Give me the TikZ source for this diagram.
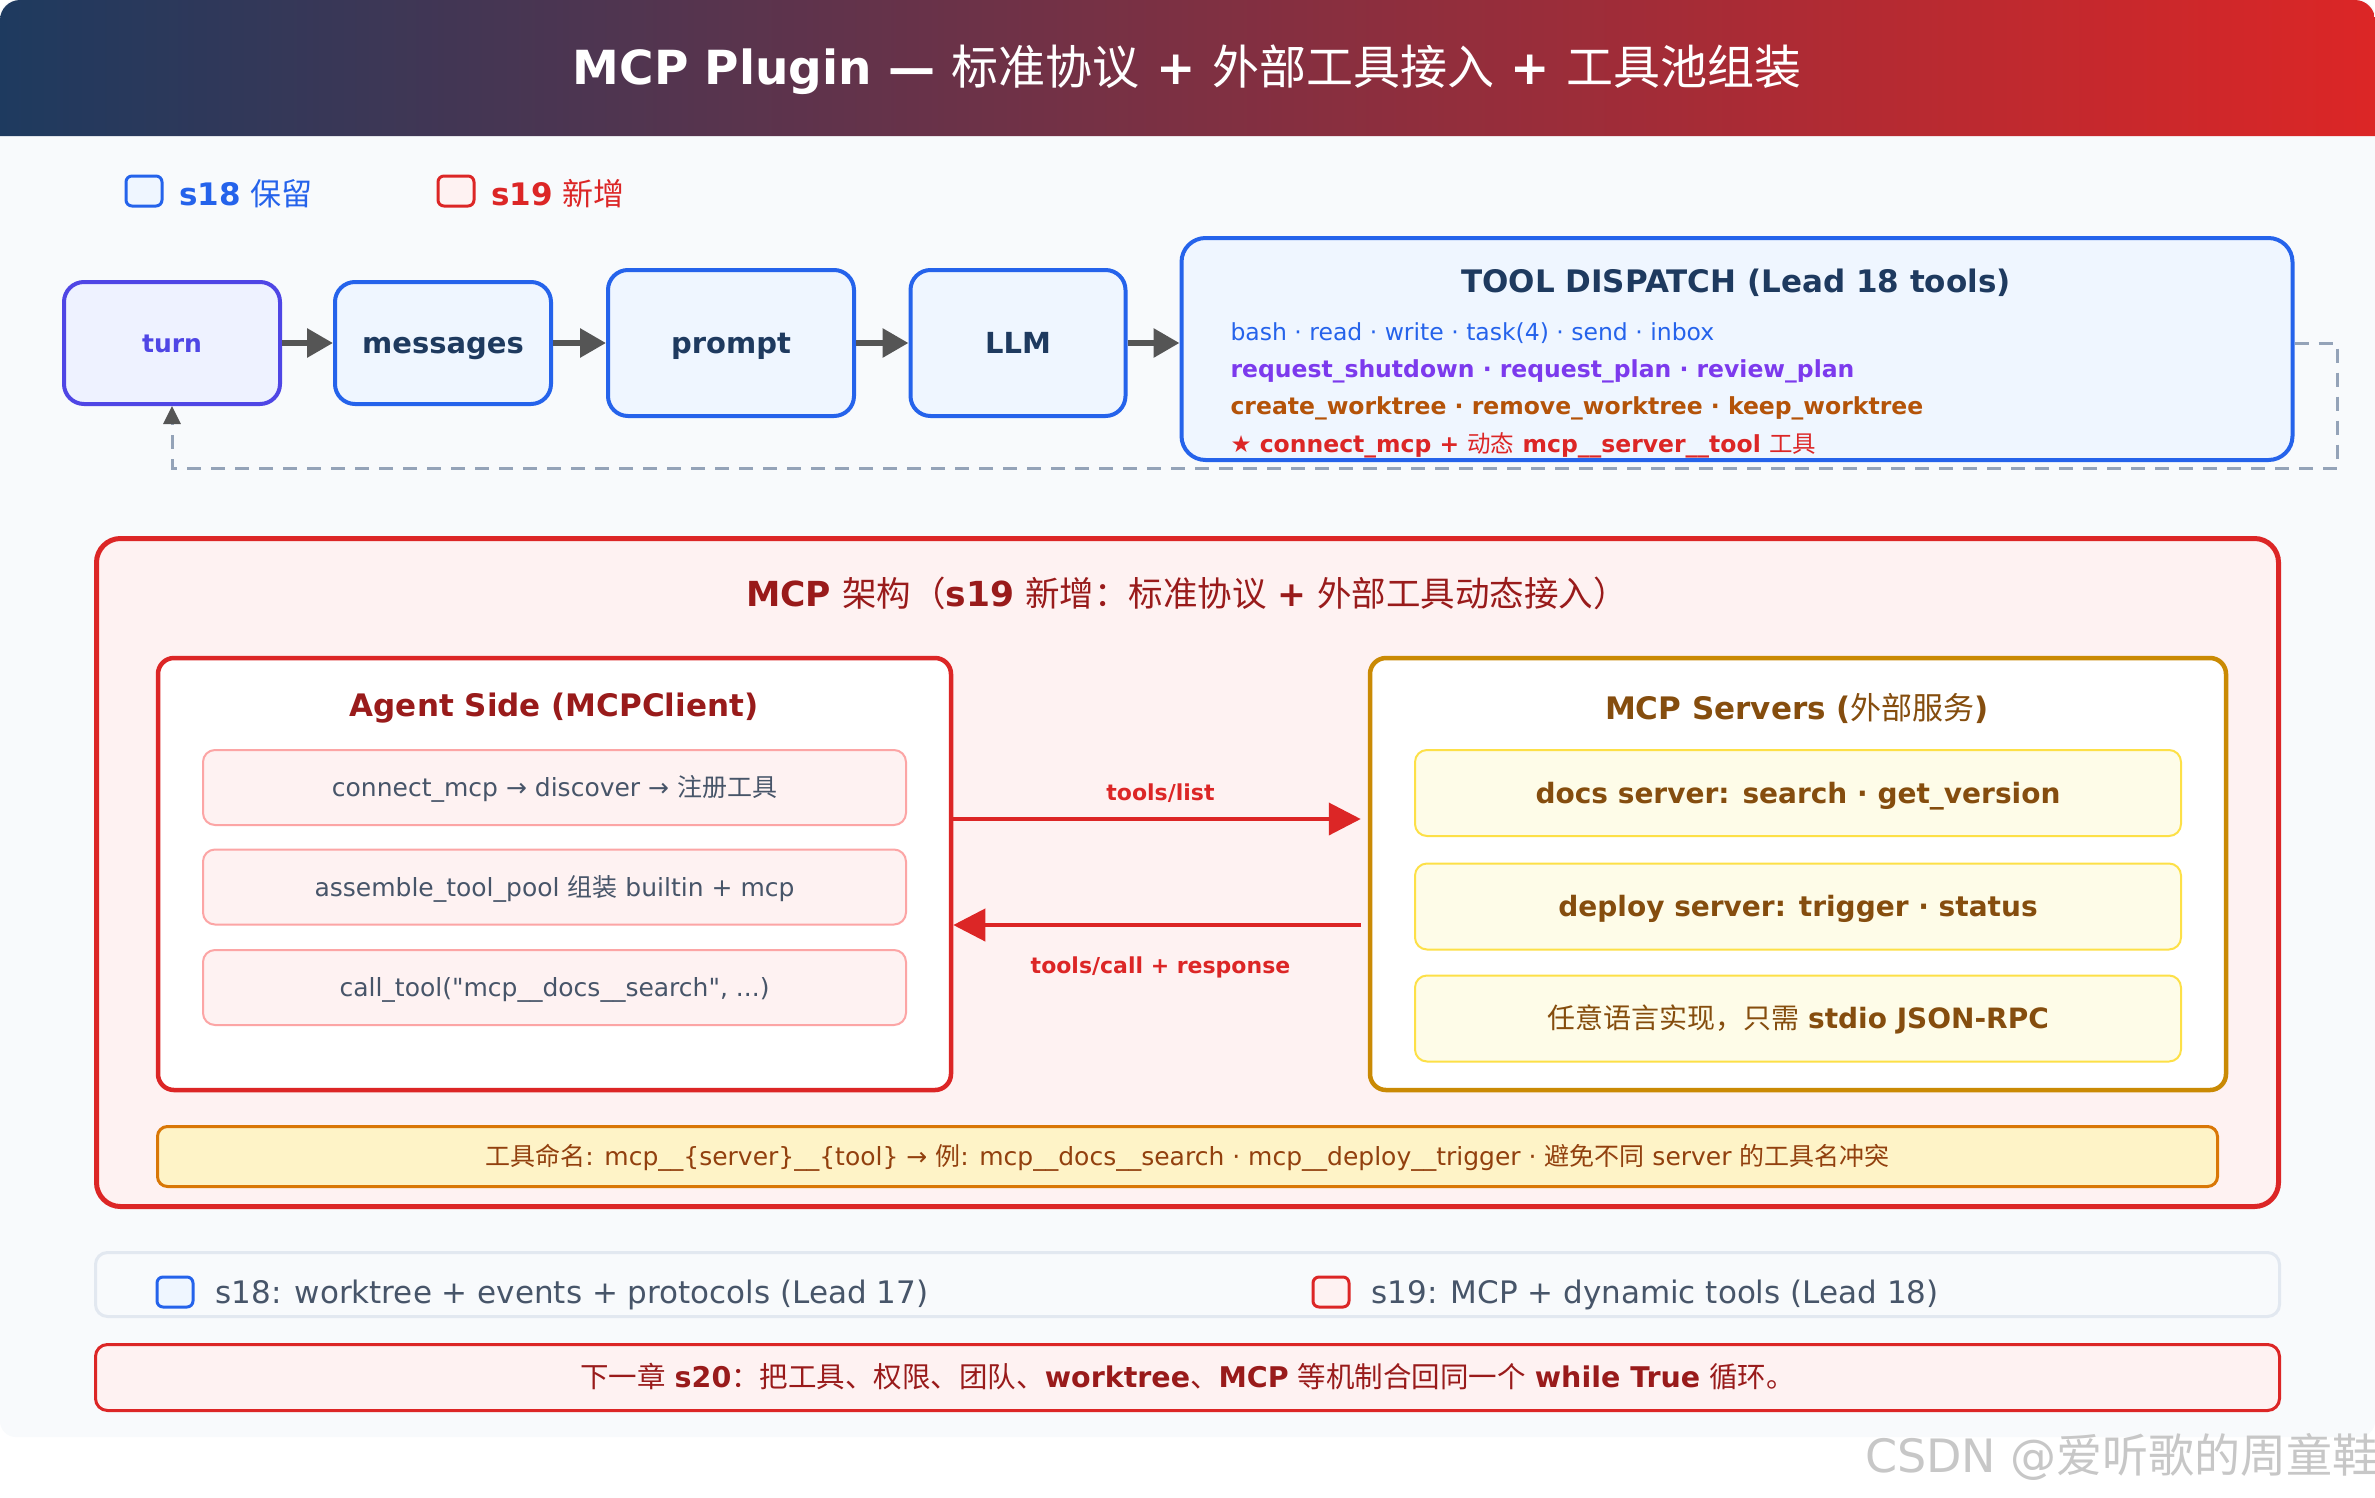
\documentclass[tikz,border=0pt]{standalone}
\usepackage{fontspec}
\setmainfont{DejaVu Sans}
\newfontfamily\cjk{Noto Sans CJK SC}
\newfontfamily\rawfont{DejaVu Sans}
\usetikzlibrary{arrows.meta}
\newcommand\zh[1]{{\cjk\mdseries #1}}
\newcommand\pxfont[1]{\fontsize{#1}{#1}\selectfont}
\newcommand\dq{{\rawfont"}}
\definecolor{navy}{HTML}{1E3A5F}
\definecolor{mcpred}{HTML}{DC2626}
\definecolor{darkred}{HTML}{991B1B}
\definecolor{palered}{HTML}{FEF2F2}
\definecolor{pinkline}{HTML}{FCA5A5}
\definecolor{s18blue}{HTML}{2563EB}
\definecolor{paleblue}{HTML}{EFF6FF}
\definecolor{indigo}{HTML}{4F46E5}
\definecolor{paleindigo}{HTML}{EEF2FF}
\definecolor{planviolet}{HTML}{7C3AED}
\definecolor{rust}{HTML}{B45309}
\definecolor{gold}{HTML}{CA8A04}
\definecolor{srvbrown}{HTML}{854D0E}
\definecolor{paleyellow}{HTML}{FEFCE8}
\definecolor{yellowline}{HTML}{FDE047}
\definecolor{amberline}{HTML}{D97706}
\definecolor{amberfill}{HTML}{FEF3C7}
\definecolor{ambertext}{HTML}{92400E}
\definecolor{slate}{HTML}{475569}
\definecolor{slateline}{HTML}{E2E8F0}
\definecolor{canvas}{HTML}{F8FAFC}
\definecolor{loopgray}{HTML}{94A3B8}
\definecolor{arrowgray}{HTML}{555555}
\begin{document}
\begin{tikzpicture}[x=1pt, y=-1pt,
    stage/.style={draw=s18blue, line width=4pt, fill=paleblue, rounded corners=20pt,
      text=navy, font=\bfseries\pxfont{29}, text height=21pt, text depth=0pt},
    flow/.style={arrowgray, line width=6pt, -{Triangle[length=26pt,width=28pt]}},
    loopback/.style={loopgray, line width=3pt, dash pattern=on 14pt off 10pt,
      -{Triangle[length=18pt,width=17pt,color=arrowgray]}},
    panel/.style={line width=4.5pt, fill=white, rounded corners=16pt},
    item/.style={draw=pinkline, line width=2pt, fill=palered, rounded corners=12pt,
      minimum width=703pt, minimum height=75pt, text=slate, font=\pxfont{25},
      text height=18pt, text depth=0pt},
    srvitem/.style={draw=yellowline, line width=2pt, fill=paleyellow, rounded corners=12pt,
      minimum width=766pt, minimum height=86pt, text=srvbrown, font=\bfseries\pxfont{28},
      text height=20pt, text depth=0pt},
    wire/.style={mcpred, line width=4pt, -{Triangle[length=32pt,width=32pt]}},
    wirelabel/.style={text=mcpred, font=\bfseries\pxfont{22}, inner sep=0pt},
    swatch/.style={line width=3pt, rounded corners=6pt, minimum width=36pt,
      minimum height=30pt, inner sep=0pt},
    bar/.style={line width=3pt, rounded corners=12pt, minimum width=2184pt,
      text depth=0pt},
  ]
  \useasboundingbox (0,0) rectangle (2375,1497);
  \fill[white] (0,0) rectangle (2375,1497);
  \fill[canvas, rounded corners=16pt] (0,0) rectangle (2375,1437);
  % title bar
  \shade[left color=navy, right color=mcpred] (0,136) [rounded corners=20pt] -- (0,0)
    -- (2375,0) [sharp corners] -- (2375,136) -- cycle;
  \node[text=white, font=\bfseries\pxfont{47}] (title) at (1187,70)
    {MCP Plugin — \zh{标准协议} + \zh{外部工具接入} + \zh{工具池组装}};
  % legend
  \node[swatch, draw=s18blue, fill=paleblue] (keyold) at (144,191) {};
  \node[anchor=west, text=s18blue, font=\pxfont{31}] (keyoldtext) at (176,194) {\textbf{s18} \zh{保留}};
  \node[swatch, draw=mcpred, fill=palered] (keynew) at (456,191) {};
  \node[anchor=west, text=mcpred, font=\pxfont{31}] (keynewtext) at (488,194) {\textbf{s19} \zh{新增}};
  % agent loop
  \node[stage, draw=indigo, fill=paleindigo, text=indigo, font=\bfseries\pxfont{25},
    text height=18pt, minimum width=216pt, minimum height=122pt] (turn) at (172,343) {turn};
  \node[stage, minimum width=216pt, minimum height=122pt] (messages) at (443,343) {messages};
  \node[stage, minimum width=246pt, minimum height=146pt] (prompt) at (731,343) {prompt};
  \node[stage, minimum width=215pt, minimum height=146pt] (llm) at (1018,343) {LLM};
  \node[stage, rounded corners=24pt, minimum width=1111pt, minimum height=222pt] (dispatch) at (1737,349) {};
  \node[text=navy, font=\bfseries\pxfont{31}] (dtitle) at (1736,283) {TOOL DISPATCH (Lead 18 tools)};
  \node[anchor=west, text=s18blue, font=\pxfont{23.5}] (dbase) at (1227,333)
    {bash · read · write · task(4) · send · inbox};
  \node[anchor=west, text=planviolet, font=\bfseries\pxfont{23.5}] (dplan) at (1227,371)
    {request\_shutdown · request\_plan · review\_plan};
  \node[anchor=west, text=rust, font=\bfseries\pxfont{23.5}] (dtree) at (1227,408)
    {create\_worktree · remove\_worktree · keep\_worktree};
  \node[anchor=west, text=mcpred, font=\bfseries\pxfont{23.5}] (dmcp) at (1227,445)
    {{\mdseries ★} connect\_mcp + \zh{动态} mcp\_\_server\_\_tool \zh{工具}};
  \draw[flow] (turn) -- (messages);
  \draw[flow] (messages) -- (prompt);
  \draw[flow] (prompt) -- (llm);
  \draw[flow] (llm.east) -- (llm.east -| dispatch.west);
  \coordinate (loopcorner) at (2337,468);
  \draw[loopback] (dispatch.east |- llm.east) -| (loopcorner) -| (turn.south);
  % MCP architecture
  \node[draw=mcpred, line width=5pt, fill=palered, rounded corners=24pt,
    minimum width=2182pt, minimum height=668pt] (arch) at (1187.5,872.5) {};
  \node[text=darkred, font=\pxfont{34.5}] (archtitle) at (1187,593)
    {\textbf{MCP} \zh{架构（}\textbf{s19} \zh{新增：标准协议} \textbf{+} \zh{外部工具动态接入）}};
  \node[panel, draw=mcpred, minimum width=793pt, minimum height=432pt] (agent) at (554.5,874) {};
  \node[text=darkred, font=\bfseries\pxfont{31}] (agenttitle) at (554,708) {Agent Side (MCPClient)};
  \node[item] (discover) at (554.5,787.5) {connect\_mcp → discover → \zh{注册工具}};
  \node[item] (assemble) at (554.5,887) {assemble\_tool\_pool \zh{组装} builtin + mcp};
  \node[item] (calltool) at (554.5,987.5) {call\_tool(\dq mcp\_\_docs\_\_search\dq, ...)};
  \node[panel, draw=gold, minimum width=856pt, minimum height=432pt] (servers) at (1798,874) {};
  \node[text=srvbrown, font=\bfseries\pxfont{31}] (serverstitle) at (1797,708) {MCP Servers (\zh{外部服务})};
  \node[srvitem] (docs) at (1798,793) {docs server: search · get\_version};
  \node[srvitem] (deploy) at (1798,906.5) {deploy server: trigger · status};
  \node[srvitem, font=\pxfont{28}] (anylang) at (1798,1018.5) {\zh{任意语言实现，只需} \textbf{stdio JSON-RPC}};
  \coordinate (listy) at (0,819);
  \coordinate (cally) at (0,925);
  \draw[wire, shorten >=7pt] (agent.east |- listy) -- (servers.west |- listy)
    node[wirelabel, midway, above=14pt] {tools/list};
  \draw[wire, shorten <=7pt] (servers.west |- cally) -- (agent.east |- cally)
    node[wirelabel, midway, below=30pt] {tools/call + response};
  \node[bar, draw=amberline, fill=amberfill, minimum width=2060pt, minimum height=60pt,
    rounded corners=10pt, text=ambertext, font=\pxfont{25}, text height=18pt] (naming) at (1187.5,1156.5)
    {\zh{工具命名}: mcp\_\_\{server\}\_\_\{tool\} → \zh{例}: mcp\_\_docs\_\_search · mcp\_\_deploy\_\_trigger · \zh{避免不同} server \zh{的工具名冲突}};
  % recap and next chapter
  \node[bar, draw=slateline, fill=canvas, minimum height=64pt] (recap) at (1187.5,1284.5) {};
  \node[swatch, draw=s18blue, fill=paleblue] (recapold) at (175,1292) {};
  \node[anchor=west, text=slate, font=\pxfont{31}] (recapoldtext) at (212,1295)
    {s18: worktree + events + protocols (Lead 17)};
  \node[swatch, draw=mcpred, fill=palered] (recapnew) at (1331,1292) {};
  \node[anchor=west, text=slate, font=\pxfont{31}] (recapnewtext) at (1368,1295)
    {s19: MCP + dynamic tools (Lead 18)};
  \node[bar, draw=mcpred, fill=palered, minimum height=66pt, text=darkred, font=\pxfont{28.5},
    text height=20.5pt] (nextch) at (1187.5,1377.5)
    {\zh{下一章} \textbf{s20}\zh{：把工具、权限、团队、}\textbf{worktree}\zh{、}\textbf{MCP} \zh{等机制合回同一个} \textbf{while True} \zh{循环。}};
  \node[text=black!22, font=\pxfont{46}] (mark) at (2122,1457) {CSDN @\zh{爱听歌的周童鞋}};
\end{tikzpicture}
\end{document}
